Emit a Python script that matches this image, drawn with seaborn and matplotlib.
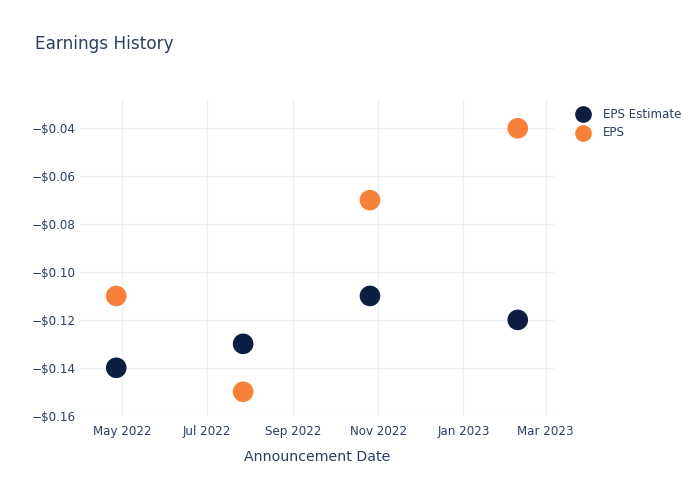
import matplotlib
matplotlib.use("Agg")
import matplotlib.pyplot as plt
import matplotlib.dates as mdates
import matplotlib.ticker as mticker
import seaborn as sns
import pandas as pd

dates = ["2022-04-27", "2022-07-27", "2022-10-26", "2023-02-09"]
eps_estimate = [-0.14, -0.13, -0.11, -0.12]
eps_actual = [-0.11, -0.15, -0.07, -0.04]
series_names = ["EPS Estimate", "EPS"]
colors = ["#0c1f42", "#f7803a"]

df = pd.DataFrame({
    "date": pd.to_datetime(dates * 2),
    "value": eps_estimate + eps_actual,
    "series": [series_names[0]] * 4 + [series_names[1]] * 4,
})

sns.set_style("white")
plt.rcParams["font.family"] = ["DejaVu Sans"]
text_color = "#2a3f5f"
grid_color = "#ebf0f8"

fig = plt.figure(figsize=(7, 5), dpi=100)
ax = fig.add_axes([80 / 700, 1 - 415.7 / 500, (554 - 80) / 700, (415.7 - 100) / 500])

sns.scatterplot(data=df, x="date", y="value", hue="series", palette=colors,
                hue_order=series_names, s=220, edgecolor="none", ax=ax, zorder=3,
                legend=False)

ax.set_xlim(pd.Timestamp("2022-04-01"), pd.Timestamp("2023-03-07"))
ax.set_ylim(-0.16, -0.0282)

ax.xaxis.set_major_locator(mdates.MonthLocator(bymonth=[1, 3, 5, 7, 9, 11]))
ax.xaxis.set_major_formatter(mdates.DateFormatter("%b %Y"))
ax.yaxis.set_major_locator(mticker.MultipleLocator(0.02))
ax.yaxis.set_major_formatter(mticker.FuncFormatter(
    lambda v, p: ("\u2212$%.2f" % abs(v)) if v < 0 else ("$%.2f" % v)))

for s in ax.spines.values():
    s.set_visible(False)
ax.grid(True, color=grid_color, linewidth=1)
ax.set_axisbelow(True)
ax.tick_params(axis="both", length=0, labelsize=8.6, colors=text_color)
ax.tick_params(axis="x", pad=7)
ax.tick_params(axis="y", pad=3)
ax.set_xlabel("Announcement Date", fontsize=10.2, color=text_color, labelpad=8)
ax.set_ylabel("")

fig.text(35 / 700, 1 - 44 / 500, "Earnings History", fontsize=12.2,
         color=text_color, va="center", ha="left")

# legend
for i, (name, c) in enumerate(zip(series_names, colors)):
    y = 1 - (114 + 19 * i) / 500
    fig.add_artist(plt.Line2D([583 / 700], [y], marker="o", markersize=11,
                              color=c, linestyle="none", transform=fig.transFigure))
    fig.text(603 / 700, y, name, fontsize=8.6, color=text_color, va="center", ha="left")

fig.savefig("out.png", dpi=100)
